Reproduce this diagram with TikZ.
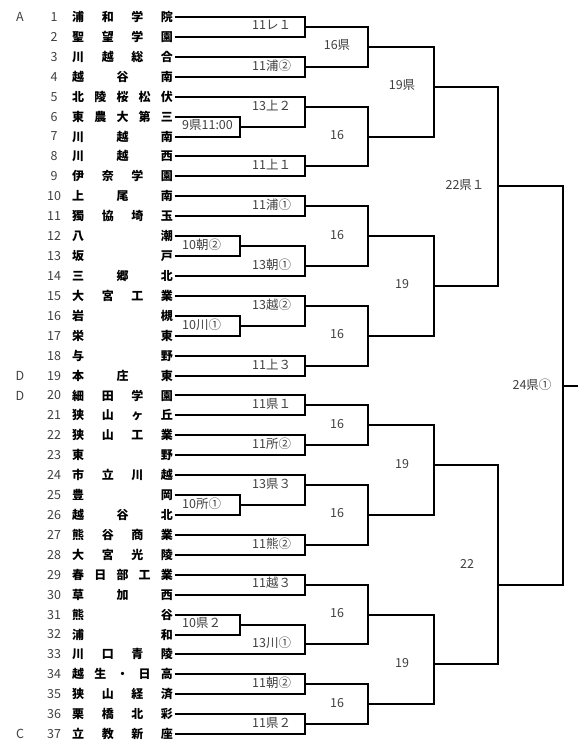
\documentclass[tikz,border=0pt]{standalone}
\usepackage{fontspec}
\setmainfont{Noto Sans CJK JP}
\usepackage{xcolor}
\usepackage{tikz}
\usetikzlibrary{positioning}

\definecolor{txtgray}{HTML}{404040}
\newcommand\spreadname[1]{\makebox[100.7pt][s]{#1}}

\begin{document}
\begin{tikzpicture}[
    x=1pt, y=-1pt,
    teamname/.style={inner xsep=1.5pt, inner ysep=0pt, anchor=west, font=\bfseries\fontsize{12}{12}\selectfont},
    teamno/.style={inner sep=0pt, text=txtgray, font=\fontsize{12.5}{12.5}\selectfont},
    lbl/.style={inner sep=0pt, text=txtgray, font=\fontsize{12.5}{12.5}\selectfont},
    bline/.style={line width=2pt}
]
    \useasboundingbox (0,0) rectangle (578,742);

    % teams
    \foreach \i/\nm in {1/浦 和 学 院,2/聖 望 学 園,3/川 越 総 合,4/越 谷 南,5/北 陵 桜 松 伏,
        6/東 農 大 第 三,7/川 越 南,8/川 越 西,9/伊 奈 学 園,10/上 尾 南,11/獨 協 埼 玉,
        12/八 潮,13/坂 戸,14/三 郷 北,15/大 宮 工 業,16/岩 槻,17/栄 東,18/与 野,19/本 庄 東,
        20/細 田 学 園,21/狭 山 ヶ 丘,22/狭 山 工 業,23/東 野,24/市 立 川 越,25/豊 岡,
        26/越 谷 北,27/熊 谷 商 業,28/大 宮 光 陵,29/春 日 部 工 業,30/草 加 西,31/熊 谷,
        32/浦 和,33/川 口 青 陵,34/越 生 ・ 日 高,35/狭 山 経 済,36/栗 橋 北 彩,37/立 教 新 座} {
        \node[teamno] (n\i) at (54, {17+(\i-1)*19.92}) {\i};
        \node[teamname] (t\i) at (70.5, {17+(\i-1)*19.92}) {\spreadname{\nm}};
    }
    \foreach \i/\g in {1/A,19/D,20/D,37/C}
        \node[teamno] (g\i) at (20, {17+(\i-1)*19.92}) {\g};

    % first games
    \foreach \m/\k/\p/\q/\s in {a1/11/t6.east/t7.east/9県11:00,a2/23/t12.east/t13.east/10朝②,
        a3/31/t16.east/t17.east/10川①,a4/49/t25.east/t26.east/10所①,a5/61/t31.east/t32.east/10県２} {
        \coordinate (\m) at (240, {17+\k*9.96});
        \draw[bline] (\p) -| (\m);
        \draw[bline] (\q) -| (\m);
        \node[lbl, anchor=west] (l\m) at (182, {15.5+\k*9.96}) {\s};
    }

    % second round
    \foreach \m/\k/\p/\q/\s in {b1/1/t1.east/t2.east/11レ１,b2/5/t3.east/t4.east/11浦②,
        b3/9/t5.east/a1/13上２,b4/15/t8.east/t9.east/11上１,b5/19/t10.east/t11.east/11浦①,
        b6/25/a2/t14.east/13朝①,b7/29/t15.east/a3/13越②,b8/35/t18.east/t19.east/11上３,
        b9/39/t20.east/t21.east/11県１,b10/43/t22.east/t23.east/11所②,b11/47/t24.east/a4/13県３,
        b12/53/t27.east/t28.east/11熊②,b13/57/t29.east/t30.east/11越３,b14/63/a5/t33.east/13川①,
        b15/67/t34.east/t35.east/11朝②,b16/71/t36.east/t37.east/11県２} {
        \coordinate (\m) at (305, {17+\k*9.96});
        \draw[bline] (\p) -| (\m);
        \draw[bline] (\q) -| (\m);
        \node[lbl, anchor=west] (l\m) at (252, {15.5+\k*9.96}) {\s};
    }

    % third round
    \foreach \m/\k/\p/\q/\s in {c1/3/b1/b2/16県,c2/12/b3/b4/16,c3/22/b5/b6/16,c4/32/b7/b8/16,
        c5/41/b9/b10/16,c6/50/b11/b12/16,c7/60/b13/b14/16,c8/69/b15/b16/16} {
        \coordinate (\m) at (368, {17+\k*9.96});
        \draw[bline] (\p) -| (\m);
        \draw[bline] (\q) -| (\m);
        \node[lbl] (l\m) at (337, {15.5+\k*9.96}) {\s};
    }

    % quarter finals
    \foreach \m/\k/\p/\q/\s in {d1/7/c1/c2/19県,d2/27/c3/c4/19,d3/45/c5/c6/19,d4/65/c7/c8/19} {
        \coordinate (\m) at (434, {17+\k*9.96});
        \draw[bline] (\p) -| (\m);
        \draw[bline] (\q) -| (\m);
        \node[lbl] (l\m) at (402, {15.5+\k*9.96}) {\s};
    }

    % semi finals and final
    \coordinate (e1) at (497.7, {17+17*9.96});
    \coordinate (e2) at (497.7, {17+57*9.96});
    \coordinate (f) at (562.7, {17+37*9.96});
    \coordinate (fin) at (578, {17+37*9.96});
    \draw[bline] (d1) -| (e1);
    \draw[bline] (d2) -| (e1);
    \draw[bline] (d3) -| (e2);
    \draw[bline] (d4) -| (e2);
    \draw[bline] (e1) -| (f);
    \draw[bline] (e2) -| (f);
    \draw[bline] (f) -- (fin);
    \node[lbl] (le1) at (465, 185) {22県１};
    \node[lbl] (le2) at (467, 564) {22};
    \node[lbl] (lf) at (532, 384.5) {24県①};
\end{tikzpicture}
\end{document}
